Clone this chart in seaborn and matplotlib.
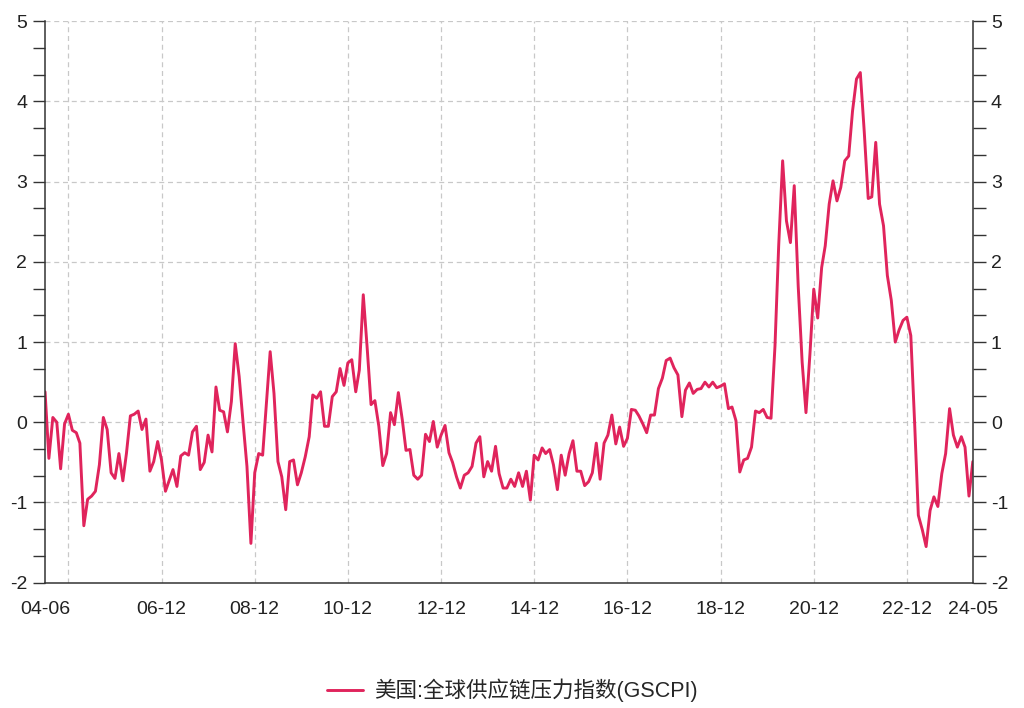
import numpy as np
import pandas as pd
import matplotlib
matplotlib.use('Agg')
import matplotlib.pyplot as plt
import matplotlib.dates as mdates
from matplotlib.ticker import FixedLocator
import seaborn as sns

# Data: monthly GSCPI, 2004-06 .. 2024-05
start_month = '2004-06-01'
gscpi = [
    0.38, -0.45, 0.06, 0.00, -0.58, -0.02, 0.10, -0.10, -0.13, -0.26,
    -1.29, -0.96, -0.92, -0.86, -0.53, 0.06, -0.09, -0.63, -0.70, -0.39,
    -0.73, -0.39, 0.08, 0.10, 0.14, -0.09, 0.04, -0.61, -0.49, -0.24,
    -0.47, -0.86, -0.72, -0.59, -0.80, -0.42, -0.38, -0.41, -0.12, -0.05,
    -0.59, -0.50, -0.16, -0.37, 0.44, 0.15, 0.13, -0.12, 0.26, 0.98,
    0.57, -0.01, -0.55, -1.51, -0.63, -0.39, -0.41, 0.20, 0.88, 0.36,
    -0.49, -0.68, -1.09, -0.49, -0.47, -0.78, -0.63, -0.43, -0.18, 0.34,
    0.30, 0.38, -0.05, -0.05, 0.32, 0.38, 0.67, 0.46, 0.74, 0.78,
    0.38, 0.65, 1.59, 0.94, 0.22, 0.27, -0.05, -0.54, -0.39, 0.12,
    -0.03, 0.37, 0.03, -0.35, -0.34, -0.66, -0.71, -0.66, -0.15, -0.24,
    0.01, -0.31, -0.16, -0.04, -0.38, -0.50, -0.68, -0.82, -0.66, -0.63,
    -0.55, -0.26, -0.18, -0.68, -0.49, -0.61, -0.30, -0.64, -0.82, -0.82,
    -0.71, -0.80, -0.63, -0.80, -0.61, -0.97, -0.41, -0.47, -0.32, -0.39,
    -0.34, -0.53, -0.84, -0.41, -0.66, -0.39, -0.23, -0.61, -0.61, -0.79,
    -0.74, -0.63, -0.26, -0.71, -0.26, -0.16, 0.09, -0.27, -0.06, -0.30,
    -0.20, 0.16, 0.15, 0.08, -0.02, -0.13, 0.09, 0.09, 0.42, 0.55,
    0.77, 0.80, 0.68, 0.59, 0.07, 0.40, 0.49, 0.36, 0.41, 0.42,
    0.50, 0.44, 0.50, 0.43, 0.45, 0.48, 0.17, 0.19, 0.02, -0.62,
    -0.47, -0.45, -0.31, 0.14, 0.12, 0.16, 0.06, 0.05, 0.95, 2.20,
    3.26, 2.51, 2.24, 2.95, 1.70, 0.75, 0.12, 0.85, 1.66, 1.30,
    1.93, 2.20, 2.72, 3.01, 2.76, 2.93, 3.26, 3.32, 3.88, 4.28,
    4.36, 3.62, 2.79, 2.81, 3.49, 2.72, 2.45, 1.83, 1.52, 1.00,
    1.15, 1.27, 1.31, 1.08, -0.05, -1.16, -1.34, -1.55, -1.10, -0.93,
    -1.05, -0.64, -0.39, 0.17, -0.16, -0.31, -0.18, -0.31, -0.92, -0.49,
]
series_name = '美国:全球供应链压力指数(GSCPI)'

# Axis labels / ticks
label_dates = ['2004-06', '2006-12', '2008-12', '2010-12', '2012-12', '2014-12',
               '2016-12', '2018-12', '2020-12', '2022-12', '2024-05']
minor_dates = ['2005-12', '2007-12', '2009-12', '2011-12', '2013-12',
               '2015-12', '2017-12', '2019-12', '2021-12', '2023-12']
grid_dates = ['2004-12', '2006-12', '2008-12', '2010-12', '2012-12',
              '2014-12', '2016-12', '2018-12', '2020-12', '2022-12']
y_ticks = [-2, -1, 0, 1, 2, 3, 4, 5]

line_color = '#e0245c'

sns.set_style('white')
plt.rcParams['font.family'] = ['Liberation Sans', 'Noto Sans CJK SC', 'DejaVu Sans']
plt.rcParams['axes.unicode_minus'] = False

df = pd.DataFrame({
    'date': pd.date_range(start_month, periods=len(gscpi), freq='MS'),
    'value': gscpi,
})

fig = plt.figure(figsize=(10.24, 7.08), dpi=100)
fig.subplots_adjust(left=0.044, right=0.950, bottom=0.177, top=0.970)
ax = fig.add_subplot(111)

# vertical + horizontal dashed grid
for d in grid_dates:
    ax.axvline(pd.Timestamp(d), color='#c8c8c8', lw=0.9, ls=(0, (4, 3)), zorder=0)
for v in y_ticks[1:]:
    ax.axhline(v, color='#c8c8c8', lw=0.9, ls=(0, (4, 3)), zorder=0)

sns.lineplot(data=df, x='date', y='value', ax=ax, color=line_color,
             lw=2.1, label=series_name)

ax.set_xlim(df['date'].iloc[0], df['date'].iloc[-1])
ax.set_ylim(-2, 5)
ax.set_xlabel('')
ax.set_ylabel('')

# x ticks
ax.xaxis.set_major_locator(FixedLocator(mdates.date2num(pd.to_datetime(label_dates))))
ax.xaxis.set_minor_locator(FixedLocator(mdates.date2num(pd.to_datetime(minor_dates))))
ax.xaxis.set_major_formatter(mdates.DateFormatter('%y-%m'))

# y ticks, both sides, minor at thirds
ax.set_yticks(y_ticks)
ax.yaxis.set_minor_locator(FixedLocator([v + k / 3 for v in y_ticks[:-1] for k in (1, 2)]))
ax.tick_params(axis='both', which='both', direction='out', length=9, width=1,
               color='#333333', labelsize=14, labelcolor='#222222')
ax.tick_params(axis='y', which='both', left=True, right=True,
               labelleft=True, labelright=True)
ax.tick_params(axis='y', pad=4)
ax.tick_params(axis='x', pad=4)

for side in ['left', 'right', 'bottom']:
    ax.spines[side].set_color('#333333')
    ax.spines[side].set_linewidth(1.1)
ax.spines['top'].set_visible(False)

ax.legend(loc='center', bbox_to_anchor=(0.5, 0.025), bbox_transform=fig.transFigure,
          frameon=False, fontsize=15.5, handlelength=1.7, handletextpad=0.5)

plt.savefig('out.png', dpi=100)
